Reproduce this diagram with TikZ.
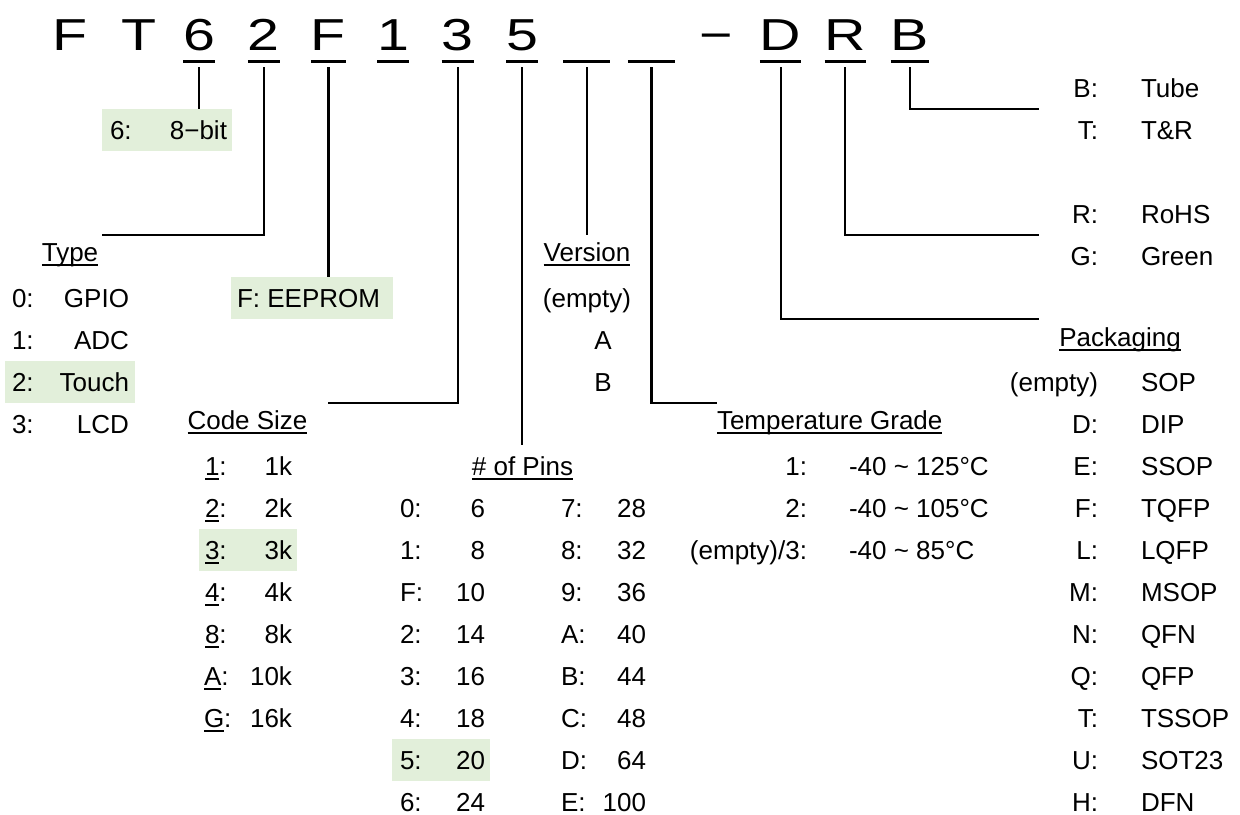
\documentclass[tikz,border=0pt]{standalone}
\usepackage{fontspec}
\setmainfont{Liberation Sans}
\usepackage{graphicx}
\newcommand\myul[1]{\setbox0\hbox{#1}\rlap{\rule[-2.3pt]{\wd0}{1pt}}\box0}
\definecolor{hlgreen}{HTML}{E2EFDA}
\tikzset{
  every node/.style={inner sep=0pt, outer sep=0pt},
  body/.style={font=\fontsize{13}{15}\selectfont},
  kl/.style={body, anchor=base west},
  kr/.style={body, anchor=base east},
  kc/.style={body, anchor=base},
  ttl/.style={anchor=base, font=\fontsize{22.4}{26}\selectfont},
  hl/.style={fill=hlgreen, draw=none},
  conn/.style={line width=1.1pt},
  tul/.style={line width=1.5pt},
}
\begin{document}
\begin{tikzpicture}[x=0.5pt,y=-0.5pt]
\useasboundingbox (0,0) rectangle (1240,814);
\fill[white] (0,0) rectangle (1240,814);
% highlight boxes
\node[hl, minimum width=65pt, minimum height=21pt] (b6) at (167,130) {};
\node[hl, minimum width=65pt, minimum height=21pt] (bT) at (70,382) {};
\node[hl, minimum width=81pt, minimum height=21pt] (bF) at (312,298) {};
\node[hl, minimum width=49pt, minimum height=21pt] (bC) at (248,550) {};
\node[hl, minimum width=49pt, minimum height=21pt] (bP) at (441,760) {};
% title
\node[ttl] (tF) at (70,50) {\scalebox{1.28}[1]{F}};
\node[ttl] (tT) at (139,50) {\scalebox{1.28}[1]{T}};
\node[ttl] (t6) at (199.2,50) {\scalebox{1.28}[1]{6}};
\node[ttl] (t2) at (263.8,50) {\scalebox{1.28}[1]{2}};
\node[ttl] (tF2) at (328.4,50) {\scalebox{1.28}[1]{F}};
\node[ttl] (t1) at (393,50) {\scalebox{1.28}[1]{1}};
\node[ttl] (t3) at (457.6,50) {\scalebox{1.28}[1]{3}};
\node[ttl] (t5) at (522.2,50) {\scalebox{1.28}[1]{5}};
\node[ttl, minimum width=23.5pt] (tv) at (586.8,50) {};
\node[ttl, minimum width=23.5pt] (tt) at (651.4,50) {};
\node[ttl] (tdash) at (716,50) {\scalebox{1.28}[1]{−}};
\node[ttl] (tD) at (780.6,50) {\scalebox{1.28}[1]{D}};
\node[ttl] (tR) at (845.2,50) {\scalebox{1.28}[1]{R}};
\node[ttl] (tB) at (909.8,50) {\scalebox{1.28}[1]{B}};
\coordinate (ul) at (0,61);
\coordinate (top) at (0,67);
\foreach \n in {t6,t2,tF2,t1,t3,t5,tv,tt,tD,tR,tB}
  \draw[tul] (\n.west |- ul) -- (\n.east |- ul);
% connector end points
\coordinate (cType) at (102,235);
\coordinate (cCode) at (328,403);
\coordinate (cPins) at (522.2,445);
\coordinate (cVer) at (586.8,235);
\coordinate (cTemp) at (717,403);
\coordinate (cPack) at (1039,319);
\coordinate (cRG) at (1039,235);
\coordinate (cBT) at (1039,109);
% connectors
\draw[conn] (t6.south |- top) -- (b6.north -| t6.south);
\draw[conn] (t2.south |- top) |- (cType);
\draw[conn] (tF2.south |- top) -- (bF.north -| tF2.south);
\draw[conn] (t3.south |- top) |- (cCode);
\draw[conn] (t5.south |- top) -- (cPins);
\draw[conn] (tv.south |- top) -- (cVer);
\draw[conn] (tt.south |- top) |- (cTemp);
\draw[conn] (tD.south |- top) |- (cPack);
\draw[conn] (tR.south |- top) |- (cRG);
\draw[conn] (tB.south |- top) |- (cBT);
% 6: 8-bit
\node[kl] (k6) at (110,139) {6:};
\node[kr] (v6) at (227,139) {8−bit};
% Type
\node[kc] (hType) at (70,261) {\myul{Type}};
\node[kl] (ty0) at (12,307) {0:}; \node[kr] (tv0) at (129,307) {GPIO};
\node[kl] (ty1) at (12,349) {1:}; \node[kr] (tv1) at (129,349) {ADC};
\node[kl] (ty2) at (12,391) {2:}; \node[kr] (tv2) at (129,391) {Touch};
\node[kl] (ty3) at (12,433) {3:}; \node[kr] (tv3) at (129,433) {LCD};
% F: EEPROM
\node[kl] (kF) at (237,307) {F: EEPROM};
% Code size
\node[kc] (hCode) at (247.5,429) {\myul{Code Size}};
\node[kl] (c1) at (205,475) {\myul{1}:}; \node[kr] (cv1) at (292,475) {1k};
\node[kl] (c2) at (205,517) {\myul{2}:}; \node[kr] (cv2) at (292,517) {2k};
\node[kl] (c3) at (205,559) {\myul{3}:}; \node[kr] (cv3) at (292,559) {3k};
\node[kl] (c4) at (205,601) {\myul{4}:}; \node[kr] (cv4) at (292,601) {4k};
\node[kl] (c8) at (205,643) {\myul{8}:}; \node[kr] (cv8) at (292,643) {8k};
\node[kl] (cA) at (204,685) {\myul{A}:}; \node[kr] (cvA) at (292,685) {10k};
\node[kl] (cG) at (204,727) {\myul{G}:}; \node[kr] (cvG) at (292,727) {16k};
% Pins
\node[kc] (hPins) at (522.5,475) {\myul{\# of Pins}};
\node[kl] (p0) at (400,517) {0:}; \node[kr] (pv0) at (485,517) {6};
\node[kl] (p1) at (400,559) {1:}; \node[kr] (pv1) at (485,559) {8};
\node[kl] (pF) at (400,601) {F:}; \node[kr] (pvF) at (485,601) {10};
\node[kl] (p2) at (400,643) {2:}; \node[kr] (pv2) at (485,643) {14};
\node[kl] (p3) at (400,685) {3:}; \node[kr] (pv3) at (485,685) {16};
\node[kl] (p4) at (400,727) {4:}; \node[kr] (pv4) at (485,727) {18};
\node[kl] (p5) at (400,769) {5:}; \node[kr] (pv5) at (485,769) {20};
\node[kl] (p6) at (400,811) {6:}; \node[kr] (pv6) at (485,811) {24};
\node[kl] (p7) at (561,517) {7:}; \node[kr] (pv7) at (646,517) {28};
\node[kl] (p8) at (561,559) {8:}; \node[kr] (pv8) at (646,559) {32};
\node[kl] (p9) at (561,601) {9:}; \node[kr] (pv9) at (646,601) {36};
\node[kl] (pA) at (561,643) {A:}; \node[kr] (pvA) at (646,643) {40};
\node[kl] (pB) at (561,685) {B:}; \node[kr] (pvB) at (646,685) {44};
\node[kl] (pC) at (561,727) {C:}; \node[kr] (pvC) at (646,727) {48};
\node[kl] (pD) at (561,769) {D:}; \node[kr] (pvD) at (646,769) {64};
\node[kl] (pE) at (561,811) {E:}; \node[kr] (pvE) at (646,811) {100};
% Version
\node[kc] (hVer) at (587,261) {\myul{Version}};
\node[kc] (ve) at (587,307) {(empty)};
\node[kc] (vA) at (603,349) {A};
\node[kc] (vB) at (603,391) {B};
% Temperature
\node[kl] (hTemp) at (717,429) {\myul{Temperature Grade}};
\node[kr] (g1) at (807,475) {1:}; \node[kl] (gv1) at (849,475) {-40 \textasciitilde{} 125°C};
\node[kr] (g2) at (807,517) {2:}; \node[kl] (gv2) at (849,517) {-40 \textasciitilde{} 105°C};
\node[kr] (g3) at (807,559) {(empty)/3:}; \node[kl] (gv3) at (849,559) {-40 \textasciitilde{} 85°C};
% Packaging
\node[kc] (hPack) at (1120,346) {\myul{Packaging}};
\node[kr] (k0) at (1098,391) {(empty)}; \node[kl] (kv0) at (1141,391) {SOP};
\node[kr] (kD) at (1098,433) {D:}; \node[kl] (kvD) at (1141,433) {DIP};
\node[kr] (kE) at (1098,475) {E:}; \node[kl] (kvE) at (1141,475) {SSOP};
\node[kr] (kF2) at (1098,517) {F:}; \node[kl] (kvF) at (1141,517) {TQFP};
\node[kr] (kL) at (1098,559) {L:}; \node[kl] (kvL) at (1141,559) {LQFP};
\node[kr] (kM) at (1098,601) {M:}; \node[kl] (kvM) at (1141,601) {MSOP};
\node[kr] (kN) at (1098,643) {N:}; \node[kl] (kvN) at (1141,643) {QFN};
\node[kr] (kQ) at (1098,685) {Q:}; \node[kl] (kvQ) at (1141,685) {QFP};
\node[kr] (kT) at (1098,727) {T:}; \node[kl] (kvT) at (1141,727) {TSSOP};
\node[kr] (kU) at (1098,769) {U:}; \node[kl] (kvU) at (1141,769) {SOT23};
\node[kr] (kH) at (1098,811) {H:}; \node[kl] (kvH) at (1141,811) {DFN};
% RoHS / Green
\node[kr] (rR) at (1098,223) {R:}; \node[kl] (rvR) at (1141,223) {RoHS};
\node[kr] (rG) at (1098,265) {G:}; \node[kl] (rvG) at (1141,265) {Green};
% Tube / T&R
\node[kr] (sB) at (1098,97) {B:}; \node[kl] (svB) at (1141,97) {Tube};
\node[kr] (sT) at (1098,139) {T:}; \node[kl] (svT) at (1141,139) {T\&R};
\end{tikzpicture}
\end{document}
